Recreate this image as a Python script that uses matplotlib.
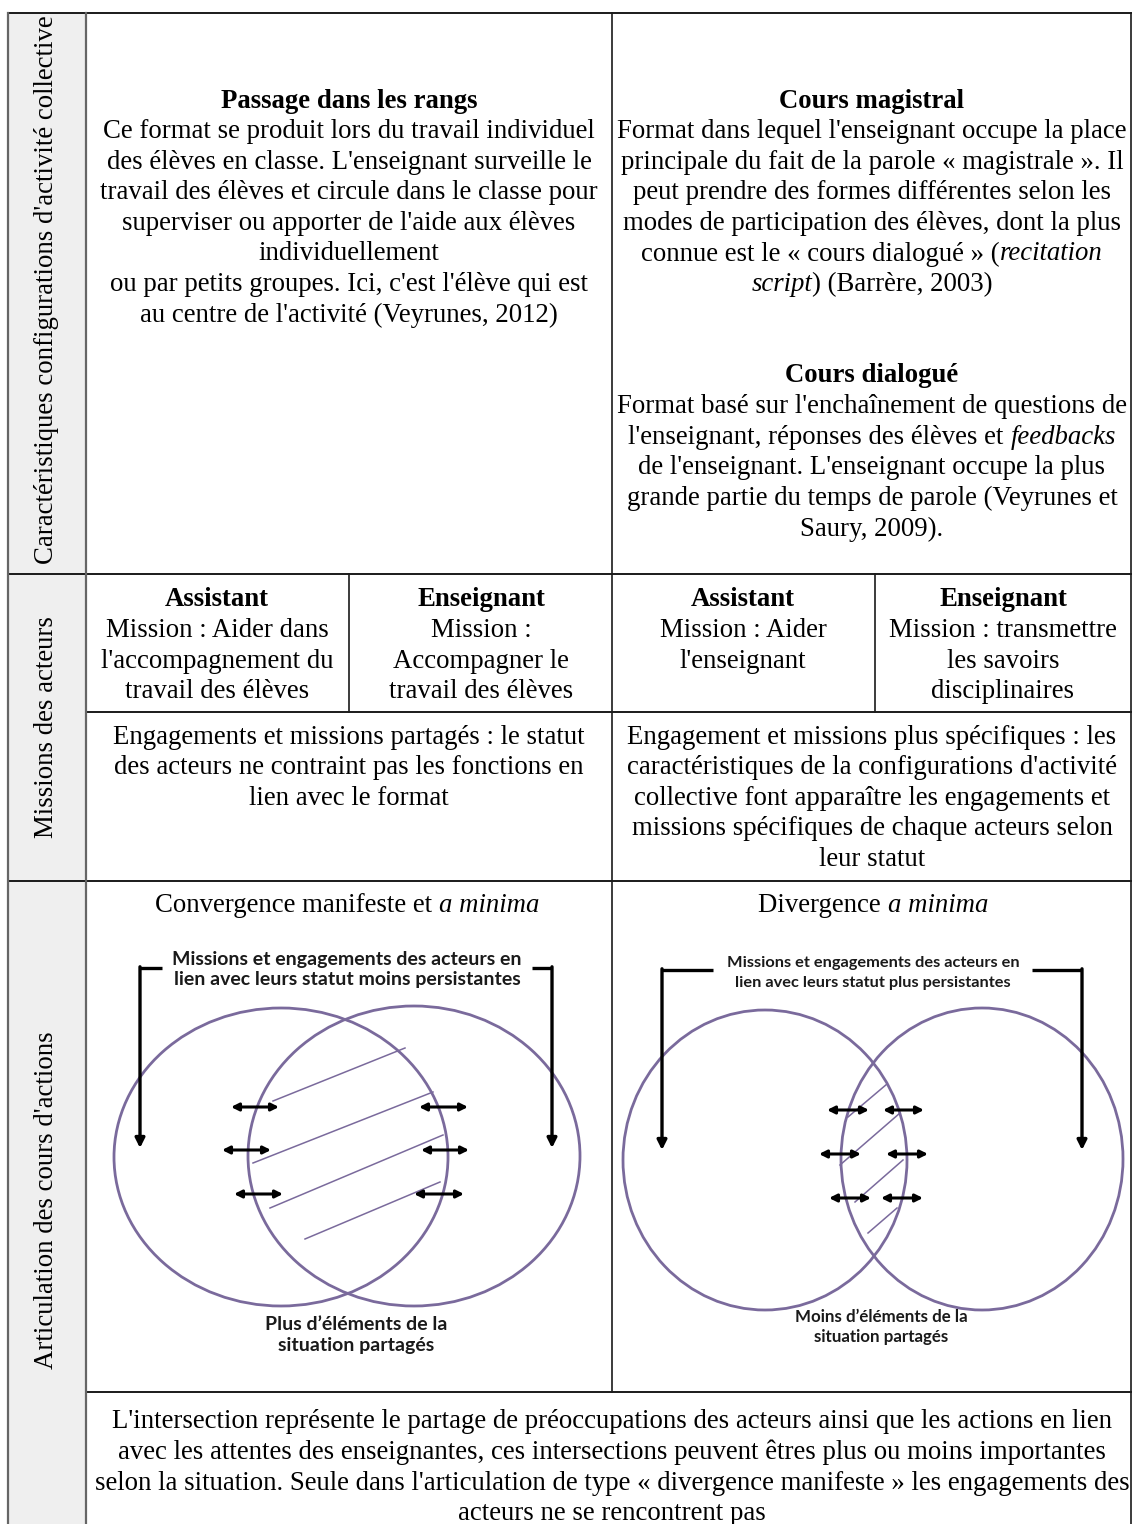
import matplotlib
matplotlib.use("Agg")
import matplotlib.pyplot as plt
from matplotlib.patches import Ellipse, Rectangle

# ---- contenu du tableau ----
row_labels = ["Caractéristiques configurations d'activité collective",
              "Missions des acteurs",
              "Articulation des cours d'actions"]

passage_title = "Passage dans les rangs"
passage_lines = ["Ce format se produit lors du travail individuel",
                 "des élèves en classe. L'enseignant surveille le",
                 "travail des élèves et circule dans le classe pour",
                 "superviser ou apporter de l'aide aux élèves",
                 "individuellement",
                 "ou par petits groupes. Ici, c'est l'élève qui est",
                 "au centre de l'activité (Veyrunes, 2012)"]

magistral_title = "Cours magistral"
magistral_lines = [[("Format dans lequel l'enseignant occupe la place", "normal")],
                   [("principale du fait de la parole « magistrale ». Il", "normal")],
                   [("peut prendre des formes différentes selon les", "normal")],
                   [("modes de participation des élèves, dont la plus", "normal")],
                   [("connue est le « cours dialogué » (", "normal"), ("recitation", "italic")],
                   [("script", "italic"), (") (Barrère, 2003)", "normal")]]

dialogue_title = "Cours dialogué"
dialogue_lines = [[("Format basé sur l'enchaînement de questions de", "normal")],
                  [("l'enseignant, réponses des élèves et ", "normal"), ("feedbacks", "italic")],
                  [("de l'enseignant. L'enseignant occupe la plus", "normal")],
                  [("grande partie du temps de parole (Veyrunes et", "normal")],
                  [("Saury, 2009).", "normal")]]

missions_titles = ["Assistant", "Enseignant", "Assistant", "Enseignant"]
missions_lines = [["Mission : Aider dans", "l'accompagnement du", "travail des élèves"],
                  ["Mission :", "Accompagner le", "travail des élèves"],
                  ["Mission : Aider", "l'enseignant"],
                  ["Mission : transmettre", "les savoirs", "disciplinaires"]]

partages_lines = ["Engagements et missions partagés : le statut",
                  "des acteurs ne contraint pas les fonctions en",
                  "lien avec le format"]
specifiques_lines = ["Engagement et missions plus spécifiques : les",
                     "caractéristiques de la configurations d'activité",
                     "collective font apparaître les engagements et",
                     "missions spécifiques de chaque acteurs selon",
                     "leur statut"]

conv_title = [("Convergence manifeste et ", "normal"), ("a minima", "italic")]
div_title = [("Divergence ", "normal"), ("a minima", "italic")]
conv_top = ["Missions et engagements des acteurs en", "lien avec leurs statut moins persistantes"]
div_top = ["Missions et engagements des acteurs en", "lien avec leurs statut plus persistantes"]
conv_bottom = ["Plus d\u2019éléments de la", "situation partagés"]
div_bottom = ["Moins d\u2019éléments de la", "situation partagés"]

footer_lines = ["L'intersection représente le partage de préoccupations des acteurs ainsi que les actions en lien",
                "avec les attentes des enseignantes, ces intersections peuvent êtres plus ou moins importantes",
                "selon la situation. Seule dans l'articulation de type « divergence manifeste » les engagements des",
                "acteurs ne se rencontrent pas"]

SERIF = "Liberation Serif"
SANS = "Lato"
FS = 19.3
LH = 30.6
PURPLE = "#7a6a9c"
LINE = "#1a1a1a"

fig = plt.figure(figsize=(11.32, 15.24), dpi=100)
ax = fig.add_axes([0, 0, 1, 1])
ax.set_xlim(0, 1132)
ax.set_ylim(1524, 0)
ax.axis("off")
renderer = fig.canvas.get_renderer()


def runs(x, y, parts, weight="normal"):
    # texte centré composé de morceaux droits / italiques
    widths = []
    objs = []
    for s, style in parts:
        t = ax.text(0, y, s, family=SERIF, fontsize=FS, style=style, weight=weight,
                    va="center", ha="left")
        objs.append(t)
        widths.append(t.get_window_extent(renderer).width)
    x0 = x - sum(widths) / 2
    for t, w in zip(objs, widths):
        t.set_x(x0)
        x0 += w


def block(x, y, lines, title=None):
    if title:
        ax.text(x, y, title, family=SERIF, fontsize=FS, weight="bold", ha="center", va="center")
        y += LH
    for ln in lines:
        if isinstance(ln, str):
            ax.text(x, y, ln, family=SERIF, fontsize=FS, ha="center", va="center")
        else:
            runs(x, y, ln)
        y += LH
    return y


# ---- grille ----
L, C0, MID, R, T = 8, 86, 612, 1131, 13
ax.add_patch(Rectangle((L, T), C0 - L, 1524 - T, fc="#efefef", ec="none"))
for x1, x2, y in [(L, R, T), (L, R, 574), (C0, R, 712), (L, R, 881), (C0, R, 1392)]:
    ax.plot([x1, x2], [y, y], color=LINE, lw=1.4)
for x, y1, y2 in [(L, T, 1524), (C0, T, 1524), (R, T, 1524), (MID, T, 1392),
                  (349, 574, 712), (875, 574, 712)]:
    col = "#666666" if x in (L, C0) else LINE
    ax.plot([x, x], [y1, y2], color=col, lw=1.6 if x in (L, C0) else 1.2)

# ---- étiquettes de ligne ----
for lab, yc in zip(row_labels, [290, 727, 1200]):
    ax.text(47, yc, lab, family=SERIF, fontsize=FS, rotation=90, ha="center", va="center")

# ---- ligne 1 ----
block(349, 101, passage_lines, title=passage_title)
block(872, 101, magistral_lines, title=magistral_title)
block(872, 376, dialogue_lines, title=dialogue_title)

# ---- ligne 2 ----
for xc, tt, ll in zip([217, 481, 743, 1003], missions_titles, missions_lines):
    block(xc, 600, ll, title=tt)
block(349, 737, partages_lines)
block(872, 737, specifiques_lines)

# ---- ligne 4 ----
block(612, 1422, footer_lines)


# ---- diagrammes ----
def arrow2(x1, x2, y):
    ax.annotate("", xy=(x2, y), xytext=(x1, y),
                arrowprops=dict(arrowstyle="<|-|>", color="black", lw=2.2,
                                mutation_scale=11, shrinkA=0, shrinkB=0))


def bracket(x_start, x_end, y_top, y_bot):
    ax.plot([x_start, x_end], [y_top, y_top], color="black", lw=2.4, solid_capstyle="butt")
    ax.annotate("", xy=(x_end, y_bot), xytext=(x_end, y_top - 1.2),
                arrowprops=dict(arrowstyle="-|>", color="black", lw=2.4,
                                mutation_scale=14, shrinkA=0, shrinkB=0))


def diagram(title, top, bottom, ell, hatch, arrows, brackets, xc, top_y, bot_x, bot_y,
            top_fs, bot_fs):
    runs(xc, 906, title)
    for i, s in enumerate(top):
        ax.text(xc, top_y + i * 20, s, family=SANS, fontsize=top_fs, weight="bold",
                ha="center", va="center", color="#1a1a1a")
    for i, s in enumerate(bottom):
        ax.text(bot_x, bot_y + i * 20, s, family=SANS, fontsize=bot_fs, weight="bold",
                ha="center", va="center", color="#1a1a1a")
    for cx, cy, w, h in ell:
        ax.add_patch(Ellipse((cx, cy), w, h, fill=False, ec=PURPLE, lw=2.0))
    for (x1, y1), (x2, y2) in hatch:
        ax.plot([x1, x2], [y1, y2], color=PURPLE, lw=1.1)
    for x1, x2, y in arrows:
        arrow2(x1, x2, y)
    for b in brackets:
        bracket(*b)


diagram(conv_title, conv_top, conv_bottom,
        ell=[(281, 1157, 334, 298), (414, 1156, 332, 300)],
        hatch=[((273, 1101), (405, 1048)), ((253, 1163), (433, 1092)),
               ((270, 1208), (443, 1135)), ((305, 1239), (440, 1182))],
        arrows=[(231, 279, 1107), (222, 271, 1150), (234, 283, 1194),
                (419, 468, 1107), (421, 469, 1150), (414, 464, 1194)],
        brackets=[(162, 140, 968, 1148), (532, 552, 968, 1148)],
        xc=347, top_y=960, bot_x=356, bot_y=1325, top_fs=14.0, bot_fs=14.0)

diagram(div_title, div_top, div_bottom,
        ell=[(765, 1160, 284, 300), (982, 1159, 282, 302)],
        hatch=[((848, 1117), (887, 1084)), ((840, 1165), (900, 1113)),
               ((855, 1202), (903, 1160)), ((868, 1233), (897, 1208))],
        arrows=[(827, 869, 1110), (883, 924, 1110), (819, 861, 1154),
                (886, 928, 1154), (829, 871, 1198), (881, 923, 1198)],
        brackets=[(713, 662, 970, 1150), (1032, 1082, 970, 1150)],
        xc=873, top_y=963, bot_x=881, bot_y=1317, top_fs=11.8, bot_fs=12.2)

fig.savefig("out.png", dpi=100)
